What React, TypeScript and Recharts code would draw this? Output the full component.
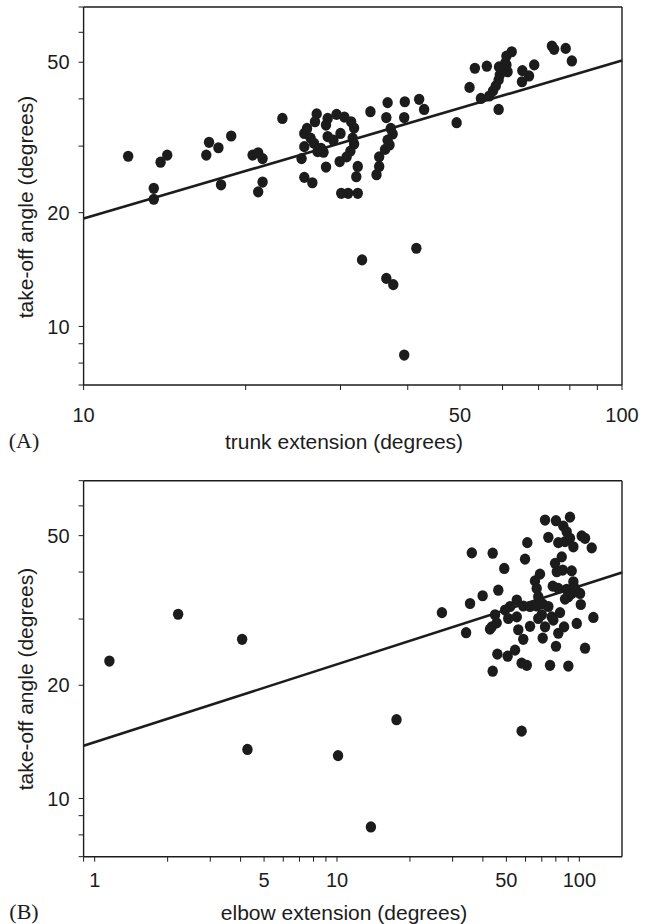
import React from "react";
import {
  ScatterChart,
  Scatter,
  XAxis,
  YAxis,
  ReferenceLine,
} from "recharts";

// (A) trunk extension vs take-off angle
const trunkExt = [
  12.1, 13.5, 13.5, 13.9, 14.3, 17.1, 16.9, 17.8, 18.8, 18.0,
  20.6, 21.1, 21.5, 21.5, 21.1, 23.4, 25.4, 25.7, 26.0, 25.7,
  27.1, 26.9, 26.4, 26.8, 27.6, 28.2, 28.4, 28.4, 29.1, 29.5,
  30.5, 30.0, 31.4, 31.8, 31.6, 31.8, 31.3, 30.8, 29.9, 28.2,
  27.2, 27.9, 25.7, 26.6, 30.1, 31.0, 32.3, 32.3, 32.1, 34.1,
  36.7, 36.5, 39.5, 39.4, 42.0, 42.9, 37.2, 37.5, 36.7, 37.0,
  36.3, 35.4, 35.4, 35.0, 32.9, 36.5, 37.6, 41.5, 39.4, 49.3,
  52.1, 53.3, 56.1, 54.7, 56.7, 57.6, 58.3, 59.0, 59.3, 59.6,
  59.1, 60.7, 61.0, 62.4, 61.3, 61.0, 59.0, 65.3, 65.2, 67.2,
  68.7, 74.1, 74.8, 78.6, 80.7,
];
const takeoffA = [
  28.2, 23.2, 21.7, 27.2, 28.4, 30.7, 28.4, 29.7, 31.9, 23.7,
  28.4, 28.8, 27.8, 24.1, 22.7, 35.5, 27.8, 32.4, 33.4, 29.9,
  36.5, 34.8, 31.5, 30.5, 29.6, 34.1, 31.8, 35.5, 31.1, 36.4,
  35.8, 32.4, 34.8, 33.5, 31.5, 30.4, 29.1, 28.1, 27.3, 26.4,
  29.0, 28.9, 24.8, 24.0, 22.5, 22.5, 22.5, 26.5, 24.9, 37.0,
  39.1, 35.7, 39.3, 35.7, 39.9, 37.5, 33.4, 32.3, 31.1, 30.2,
  29.4, 28.1, 26.5, 25.2, 15.0, 13.4, 12.9, 16.1, 8.4, 34.6,
  42.9, 48.2, 48.8, 40.1, 40.7, 42.0, 43.3, 44.9, 46.3, 47.9,
  48.6, 49.8, 51.9, 53.3, 47.2, 49.2, 37.5, 47.5, 44.4, 46.0,
  49.2, 55.2, 54.1, 54.4, 50.4,
];

// (B) elbow extension vs take-off angle
const elbowExt = [
  1.15, 2.21, 4.06, 4.27, 10.1, 17.6, 13.8, 27.1,
  72.2, 80.1, 91.5, 85.9, 88.7, 74.5, 81.9, 87.3, 91.5, 94.5,
  102.3, 105.6, 112.5, 61.0, 59.7, 36.0, 43.9, 49.0, 84.6, 79.4,
  80.7, 85.4, 93.0, 68.8, 65.6, 77.7, 81.9, 88.7, 94.5, 96.0,
  100.7, 90.1, 87.3, 93.0, 66.7, 67.7, 46.3, 39.9, 35.4, 55.2,
  51.8, 49.4, 50.9, 55.2, 58.7, 62.6, 66.7, 70.6, 74.5, 70.0,
  67.7, 76.9, 83.2, 44.9, 45.6, 42.8, 43.5, 34.1, 56.0, 62.6,
  72.2, 78.1, 86.5, 81.9, 101.4, 97.6, 114.3, 58.7, 70.6, 80.1,
  105.6, 45.9, 50.6, 54.3, 57.8, 60.7, 75.7, 90.1, 43.9, 57.8,
];
const takeoffB = [
  23.2, 30.9, 26.5, 13.5, 13.0, 16.2, 8.4, 31.2,
  55.0, 54.8, 56.0, 53.0, 51.2, 49.5, 47.9, 48.2, 49.2, 46.7,
  49.9, 49.2, 46.4, 47.9, 43.3, 45.0, 44.9, 40.9, 43.9, 42.2,
  40.1, 40.5, 40.3, 39.5, 37.9, 36.7, 36.2, 36.0, 37.7, 36.2,
  35.1, 34.4, 33.9, 35.1, 36.2, 34.4, 35.8, 34.6, 33.0, 33.7,
  32.4, 31.7, 30.1, 30.4, 32.5, 32.4, 32.5, 32.9, 32.4, 30.8,
  30.1, 30.4, 31.2, 30.8, 29.3, 28.2, 28.6, 27.6, 28.1, 28.7,
  28.6, 29.8, 28.6, 27.5, 32.8, 29.2, 30.3, 26.5, 26.7, 25.4,
  25.1, 24.2, 23.9, 24.8, 22.9, 22.6, 22.6, 22.5, 21.8, 15.1,
];

// fitted lines (end points at the axis limits)
const fitA = [
  { x: 10, y: 19.3 },
  { x: 100, y: 50.5 },
];
const fitB = [
  { x: 0.9, y: 13.8 },
  { x: 150, y: 39.9 },
];

const yTicks = [7, 8, 9, 10, 20, 30, 40, 50, 60, 70];
const yLabels = [10, 20, 50];
const xTicksA = [10, 20, 30, 40, 50, 60, 70, 80, 90, 100];
const xLabelsA = [10, 50, 100];
const xTicksB = [
  0.9, 1, 2, 3, 4, 5, 6, 7, 8, 9, 10, 20, 30, 40, 50, 60, 70, 80, 90, 100,
];
const xLabelsB = [1, 5, 10, 50, 100];

const dataA = trunkExt.map((x, i) => ({ x, y: takeoffA[i] }));
const dataB = elbowExt.map((x, i) => ({ x, y: takeoffB[i] }));

const INK = "#1c1c1c";
const tickFont = {
  fill: INK,
  fontSize: 20,
  fontFamily: "'Liberation Sans', Arial, sans-serif",
};

const Dot = (props: any) => (
  <ellipse cx={props.cx} cy={props.cy} rx={5.2} ry={5.6} fill={INK} />
);

const onlyFor = (list: number[]) => (v: number) =>
  list.includes(v) ? String(v) : "";

const textStyle: React.CSSProperties = {
  position: "absolute",
  whiteSpace: "nowrap",
  color: INK,
  fontFamily: "'Liberation Sans', Arial, sans-serif",
  fontSize: 21,
  lineHeight: 1,
  transform: "translate(-50%, -50%)",
};
const panelStyle: React.CSSProperties = {
  ...textStyle,
  fontFamily: "'Liberation Serif', 'Times New Roman', serif",
  fontSize: 22,
};
const yTitleStyle: React.CSSProperties = {
  ...textStyle,
  transform: "translate(-50%, -50%) rotate(-90deg)",
};

function Panel({
  data,
  fit,
  xDomain,
  xTicks,
  xLabels,
  height,
  top,
  xAxisHeight,
  tickMargin,
}: {
  data: { x: number; y: number }[];
  fit: { x: number; y: number }[];
  xDomain: [number, number];
  xTicks: number[];
  xLabels: number[];
  height: number;
  top: number;
  xAxisHeight: number;
  tickMargin: number;
}) {
  return (
    <ScatterChart
      width={653}
      height={height}
      margin={{ top, right: 31, left: 0, bottom: 0 }}
    >
      <XAxis
        type="number"
        dataKey="x"
        scale="log"
        domain={xDomain}
        ticks={xTicks}
        allowDataOverflow
        interval={0}
        tickFormatter={onlyFor(xLabels)}
        tick={tickFont}
        tickSize={5}
        tickMargin={tickMargin}
        height={xAxisHeight}
        axisLine={{ stroke: INK, strokeWidth: 1.4 }}
        tickLine={{ stroke: INK, strokeWidth: 1 }}
      />
      <YAxis
        type="number"
        dataKey="y"
        scale="log"
        domain={[7, 70]}
        ticks={yTicks}
        allowDataOverflow
        interval={0}
        tickFormatter={onlyFor(yLabels)}
        tick={tickFont}
        tickSize={5}
        tickMargin={9}
        width={83.6}
        axisLine={{ stroke: INK, strokeWidth: 1.4 }}
        tickLine={{ stroke: INK, strokeWidth: 1 }}
      />
      <ReferenceLine y={70} stroke={INK} strokeWidth={1.4} />
      <ReferenceLine x={xDomain[1]} stroke={INK} strokeWidth={1.4} />
      <ReferenceLine
        segment={fit}
        stroke={INK}
        strokeWidth={2.6}
        ifOverflow="extendDomain"
      />
      <Scatter data={data} shape={Dot} isAnimationActive={false} />
    </ScatterChart>
  );
}

export default function App() {
  return (
    <div
      style={{
        position: "absolute",
        left: 0,
        top: 0,
        width: 653,
        height: 924,
        background: "#fff",
      }}
    >
      <div style={{ position: "absolute", left: 0, top: 0 }}>
        <Panel
          data={dataA}
          fit={fitA}
          xDomain={[10, 100]}
          xTicks={xTicksA}
          xLabels={xLabelsA}
          height={470}
          top={7}
          xAxisHeight={85}
          tickMargin={18}
        />
      </div>
      <div style={{ position: "absolute", left: 0, top: 470 }}>
        <Panel
          data={dataB}
          fit={fitB}
          xDomain={[0.9, 150]}
          xTicks={xTicksB}
          xLabels={xLabelsB}
          height={454}
          top={10.7}
          xAxisHeight={67.3}
          tickMargin={11}
        />
      </div>

      <div style={{ ...yTitleStyle, left: 25, top: 207 }}>
        take-off angle (degrees)
      </div>
      <div style={{ ...textStyle, left: 344, top: 441 }}>
        trunk extension (degrees)
      </div>
      <div style={{ ...panelStyle, left: 24, top: 441 }}>(A)</div>

      <div style={{ ...yTitleStyle, left: 25, top: 679 }}>
        take-off angle (degrees)
      </div>
      <div style={{ ...textStyle, left: 344, top: 912 }}>
        elbow extension (degrees)
      </div>
      <div style={{ ...panelStyle, left: 24, top: 912 }}>(B)</div>
    </div>
  );
}
